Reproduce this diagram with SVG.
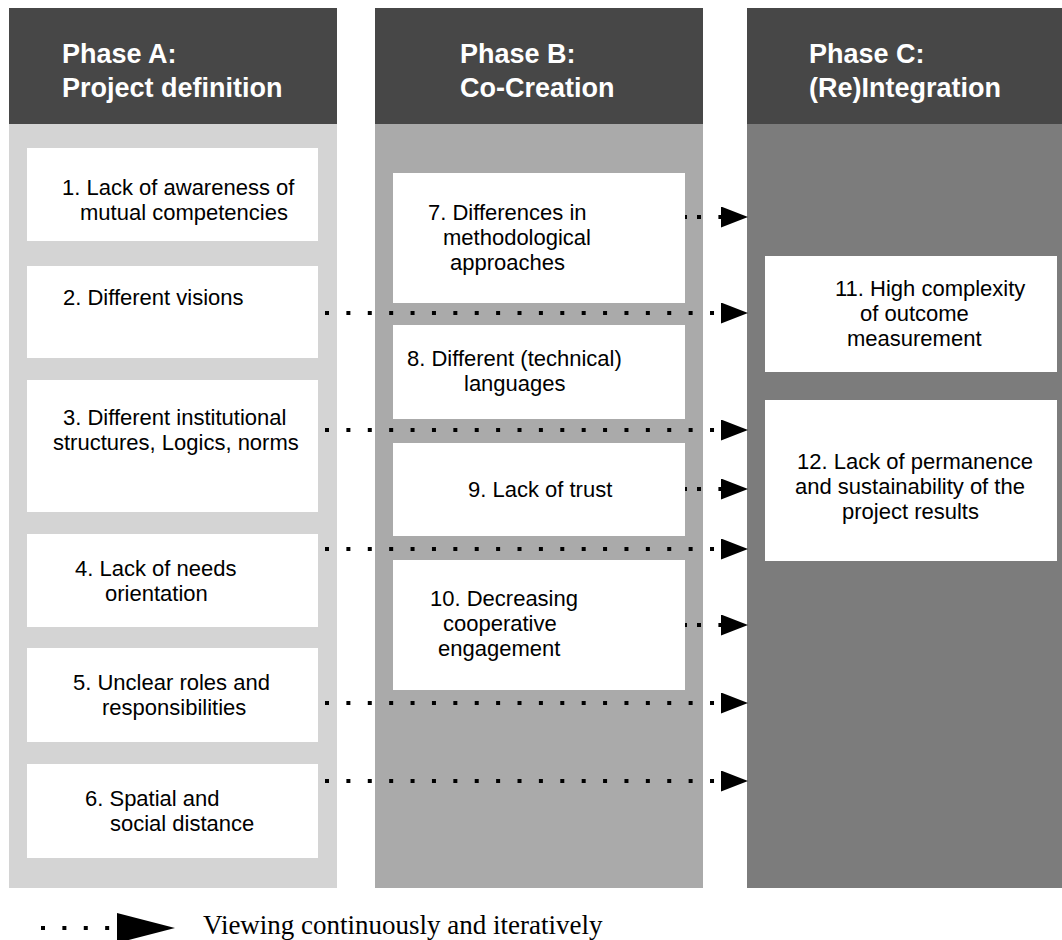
<svg xmlns="http://www.w3.org/2000/svg" width="1062" height="940" viewBox="0 0 1062 940">
  <defs>
    <marker id="ah" markerUnits="userSpaceOnUse" markerWidth="28" markerHeight="22" refX="27" refY="10.5" orient="auto">
      <path d="M0,0 L27,10.5 L0,21 z" fill="#000"/>
    </marker>
  </defs>
  <style>
    .hdr { fill: #474747; }
    .bodyA { fill: #d4d4d4; }
    .bodyB { fill: #aaaaaa; }
    .bodyC { fill: #7c7c7c; }
    .box { fill: #ffffff; }
    .ht { font-family: "Liberation Sans", Arial, sans-serif; font-weight: bold; font-size: 27px; fill: #ffffff; }
    .bt { font-family: "Liberation Sans", Arial, sans-serif; font-size: 22px; fill: #000000; }
    .long { stroke: #000; stroke-width: 4; stroke-dasharray: 4 17.39; fill: none; marker-end: url(#ah); }
    .short { stroke: #000; stroke-width: 4; stroke-dasharray: 2 10 4 17.4 4 100; fill: none; marker-end: url(#ah); }
    .lg { font-family: "Liberation Serif", "Times New Roman", serif; font-size: 27px; fill: #000; }
  </style>
  <rect width="1062" height="940" fill="#ffffff"/>

  <g id="phaseA">
    <rect class="bodyA" x="9" y="124" width="328" height="764"/>
    <rect class="hdr" x="9" y="8" width="328" height="116"/>
    <text class="ht" x="62" y="63">Phase A:</text>
    <text class="ht" x="62" y="97">Project definition</text>
  </g>
  <g id="phaseB">
    <rect class="bodyB" x="375" y="124" width="328" height="764"/>
    <rect class="hdr" x="375" y="8" width="328" height="116"/>
    <text class="ht" x="460" y="63">Phase B:</text>
    <text class="ht" x="460" y="97">Co-Creation</text>
  </g>
  <g id="phaseC">
    <rect class="bodyC" x="747" y="124" width="315" height="764"/>
    <rect class="hdr" x="747" y="8" width="315" height="116"/>
    <text class="ht" x="809" y="63">Phase C:</text>
    <text class="ht" x="809" y="97">(Re)Integration</text>
  </g>

  <g id="n1">
    <rect class="box" x="27" y="148" width="291" height="93"/>
    <text class="bt" x="62" y="195">1. Lack of awareness of</text>
    <text class="bt" x="80" y="220">mutual competencies</text>
  </g>
  <g id="n2">
    <rect class="box" x="27" y="266" width="291" height="92"/>
    <text class="bt" x="63" y="305">2. Different visions</text>
  </g>
  <g id="n3">
    <rect class="box" x="27" y="380" width="291" height="132"/>
    <text class="bt" x="63" y="425">3. Different institutional</text>
    <text class="bt" x="53" y="450">structures, Logics, norms</text>
  </g>
  <g id="n4">
    <rect class="box" x="27" y="534" width="291" height="93"/>
    <text class="bt" x="75" y="576">4. Lack of needs</text>
    <text class="bt" x="105" y="601">orientation</text>
  </g>
  <g id="n5">
    <rect class="box" x="27" y="648" width="291" height="94"/>
    <text class="bt" x="73" y="690">5. Unclear roles and</text>
    <text class="bt" x="102" y="715">responsibilities</text>
  </g>
  <g id="n6">
    <rect class="box" x="27" y="764" width="291" height="94"/>
    <text class="bt" x="85" y="806">6. Spatial and</text>
    <text class="bt" x="110" y="831">social distance</text>
  </g>

  <g id="n7">
    <rect class="box" x="393" y="173" width="292" height="130"/>
    <text class="bt" x="428" y="220">7. Differences in</text>
    <text class="bt" x="443" y="245">methodological</text>
    <text class="bt" x="450" y="270">approaches</text>
  </g>
  <g id="n8">
    <rect class="box" x="393" y="325" width="292" height="94"/>
    <text class="bt" x="407" y="366">8. Different (technical)</text>
    <text class="bt" x="464" y="391">languages</text>
  </g>
  <g id="n9">
    <rect class="box" x="393" y="443" width="292" height="93"/>
    <text class="bt" x="468" y="497">9. Lack of trust</text>
  </g>
  <g id="n10">
    <rect class="box" x="393" y="560" width="292" height="130"/>
    <text class="bt" x="430" y="606">10. Decreasing</text>
    <text class="bt" x="443" y="631">cooperative</text>
    <text class="bt" x="438" y="656">engagement</text>
  </g>

  <g id="n11">
    <rect class="box" x="765" y="256" width="292" height="116"/>
    <text class="bt" x="835" y="296">11. High complexity</text>
    <text class="bt" x="860" y="321">of outcome</text>
    <text class="bt" x="847" y="346">measurement</text>
  </g>
  <g id="n12">
    <rect class="box" x="765" y="400" width="292" height="161"/>
    <text class="bt" x="797" y="469">12. Lack of permanence</text>
    <text class="bt" x="795" y="494">and sustainability of the</text>
    <text class="bt" x="842" y="519">project results</text>
  </g>

  <g id="connectors">
    <path class="short" d="M685,217 H748"/>
    <path class="long" d="M325,313 H748"/>
    <path class="long" d="M325,430 H748"/>
    <path class="short" d="M685,489 H748"/>
    <path class="long" d="M325,549 H748"/>
    <path class="short" d="M685,625 H748"/>
    <path class="long" d="M325,703 H748"/>
    <path class="long" d="M325,781 H748"/>
  </g>

  <g id="legend">
    <path d="M41,928 H118" stroke="#000" stroke-width="4" stroke-dasharray="4 17.39" fill="none"/>
    <path d="M117,913 L175,928 L117,943 z" fill="#000"/>
    <text class="lg" x="203" y="934">Viewing continuously and iteratively</text>
  </g>
</svg>
